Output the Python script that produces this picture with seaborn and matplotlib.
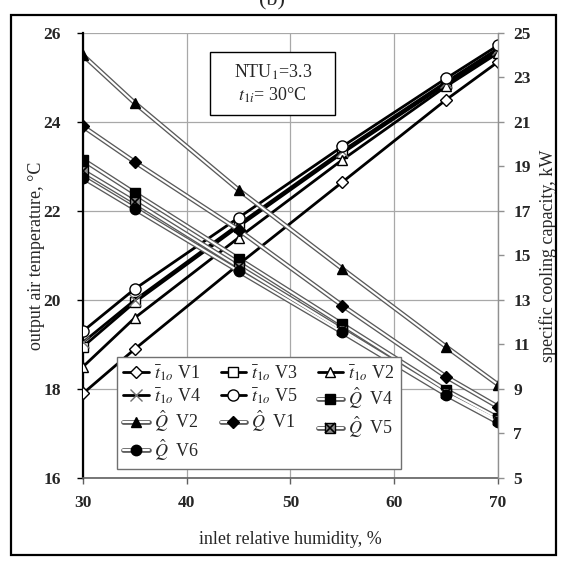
import numpy as np
import pandas as pd
import seaborn as sns
import matplotlib.pyplot as plt
from matplotlib.patches import Rectangle

# inlet relative humidity, %
humidity = [30, 35, 45, 55, 65, 70]

# output air temperature t1o, degC (left axis)
t_v1 = [17.9, 18.9, 20.8, 22.65, 24.5, 25.35]
t_v3 = [18.95, 19.95, 21.65, 23.3, 24.85, 25.6]
t_v2 = [18.5, 19.6, 21.4, 23.15, 24.8, 25.55]
t_v4 = [19.05, 20.0, 21.7, 23.35, 24.9, 25.65]
t_v5 = [19.3, 20.25, 21.85, 23.45, 24.98, 25.72]

# specific cooling capacity Q, kW (right axis)
q_v4 = [19.3, 17.8, 14.85, 11.9, 8.95, 7.7]
q_v2 = [24.0, 21.85, 17.95, 14.4, 10.9, 9.2]
q_v1 = [20.8, 19.2, 16.15, 12.75, 9.55, 8.2]
q_v5 = [18.8, 17.4, 14.5, 11.65, 8.8, 7.6]
q_v6 = [18.5, 17.1, 14.3, 11.55, 8.75, 7.5]

left_ticks = [16, 18, 20, 22, 24, 26]
right_ticks = [5, 7, 9, 11, 13, 15, 17, 19, 21, 23, 25]
x_ticks = [30, 40, 50, 60, 70]


def t_line(ax, y, marker, ms=7, mec='black', mfc='white'):
    sns.lineplot(x=humidity, y=y, ax=ax, color='black', lw=2.0,
                 marker=marker, markersize=ms, markerfacecolor=mfc,
                 markeredgecolor=mec, markeredgewidth=1.0, zorder=3)
    return ax.lines[-1]


def q_line(ax, y, marker, ms=7, mfc='black'):
    # double line: dark outline with a white core
    sns.lineplot(x=humidity, y=y, ax=ax, color='#5a5a5a', lw=3.4, zorder=2)
    outer = ax.lines[-1]
    sns.lineplot(x=humidity, y=y, ax=ax, color='white', lw=1.5,
                 marker=marker, markersize=ms, markerfacecolor=mfc,
                 markeredgecolor='black', markeredgewidth=1.0, zorder=2.1)
    inner = ax.lines[-1]
    return outer, inner


sns.set_theme(style='white')
plt.rcParams['font.family'] = ['Liberation Serif', 'DejaVu Serif']
plt.rcParams['mathtext.fontset'] = 'stix'

fig = plt.figure(figsize=(5.62, 5.65), dpi=100)
ax = fig.add_axes([0.1477, 0.154, 0.7384, 0.7876])
ax2 = ax.twinx()

h_t1 = t_line(ax, t_v1, 'D', ms=6.5)
h_t3 = t_line(ax, t_v3, 's', ms=7)
h_t2 = t_line(ax, t_v2, '^', ms=7)
h_t4 = t_line(ax, t_v4, 'x', ms=8, mec='#707070')
h_t5 = t_line(ax, t_v5, 'o', ms=8)

h_q4 = q_line(ax2, q_v4, 's', ms=7)
h_q2 = q_line(ax2, q_v2, '^', ms=7)
h_q1 = q_line(ax2, q_v1, 'D', ms=6)
h_q5 = q_line(ax2, q_v5, 's', ms=7, mfc='#8a8a8a')
sns.lineplot(x=humidity, y=q_v5, ax=ax2, lw=0, marker='x', markersize=7,
             markeredgecolor='black', markeredgewidth=1.2, zorder=2.2)
h_q5 = h_q5 + (ax2.lines[-1],)
h_q6 = q_line(ax2, q_v6, 'o', ms=7.5)

# axes ranges and ticks
ax.set_xlim(30, 70)
ax.set_ylim(16, 26)
ax2.set_ylim(5, 25)
ax.set_xticks(x_ticks)
ax.set_yticks(left_ticks)
ax2.set_yticks(right_ticks)

ax.grid(True, color='#a8a8a8', lw=0.9)
ax2.grid(False)

for s in ['top', 'right']:
    ax.spines[s].set_visible(False)
for s in ['top', 'left', 'bottom']:
    ax2.spines[s].set_visible(False)
ax.spines['left'].set_color('black')
ax.spines['left'].set_linewidth(1.6)
ax.spines['bottom'].set_color('#606060')
ax.spines['bottom'].set_linewidth(1.2)
ax2.spines['right'].set_color('#909090')
ax2.spines['right'].set_linewidth(1.0)

ax.tick_params(axis='y', left=True, direction='out', length=4, width=1,
               color='black', pad=12, labelsize=12.5)
ax.tick_params(axis='x', bottom=True, direction='out', length=4, width=1,
               color='#606060', pad=8, labelsize=12.5)
ax2.tick_params(axis='y', right=True, direction='out', length=4, width=1,
                color='#909090', pad=7, labelsize=12.5)
for lab in ax.get_xticklabels() + ax.get_yticklabels() + ax2.get_yticklabels():
    lab.set_fontweight('bold')

ax.set_xlabel('inlet relative humidity, %', fontsize=13)
ax.xaxis.set_label_coords(0.5, -0.12)
ax.set_ylabel('output air temperature, °C', fontsize=13)
ax.yaxis.set_label_coords(-0.092, 0.5)
ax2.set_ylabel('specific cooling capacity, kW', fontsize=13, rotation=90)
ax2.yaxis.set_label_coords(1.098, 0.5)

# annotation box
ax.add_patch(Rectangle((0.306, 0.816), 0.301, 0.141, transform=ax.transAxes,
                       facecolor='white', edgecolor='black', lw=1.0,
                       zorder=5, clip_on=False))
ax.text(0.457, 0.886, 'NTU$_1$=3.3\n$t_{1i}$= 30°C', transform=ax.transAxes,
        ha='center', va='center', fontsize=13, linespacing=1.25, zorder=6)

handles = [h_t1, h_t4, h_q2, h_q6, h_t3, h_t5, h_q1, h_t2, h_q4, h_q5]
labels = [r'$\bar{t}_{1o}$ V1', r'$\bar{t}_{1o}$ V4', r'$\hat{Q}$  V2',
          r'$\hat{Q}$  V6', r'$\bar{t}_{1o}$ V3', r'$\bar{t}_{1o}$ V5',
          r'$\hat{Q}$  V1', r'$\bar{t}_{1o}$ V2', r'$\hat{Q}$  V4',
          r'$\hat{Q}$  V5']
leg = ax2.legend(handles, labels, ncol=3, loc='lower left',
                 bbox_to_anchor=(0.082, 0.02, 0.684, 0.243), mode='expand',
                 fontsize=13, frameon=True, fancybox=False, framealpha=1,
                 edgecolor='#707070', handlelength=1.4, handletextpad=0.3,
                 columnspacing=0.8, labelspacing=0.18, borderpad=0.35,
                 borderaxespad=0)
leg.get_frame().set_linewidth(1.0)
leg.set_zorder(10)

# outer frame and panel tag
fig.patches.append(Rectangle((11 / 562, 1 - 555 / 565), 545 / 562, 540 / 565,
                             transform=fig.transFigure, fill=False,
                             edgecolor='black', lw=1.6))
fig.text(272 / 562, 1 - 10 / 565, '(b)', ha='center', va='bottom', fontsize=16)

fig.savefig('out.png', dpi=100)
